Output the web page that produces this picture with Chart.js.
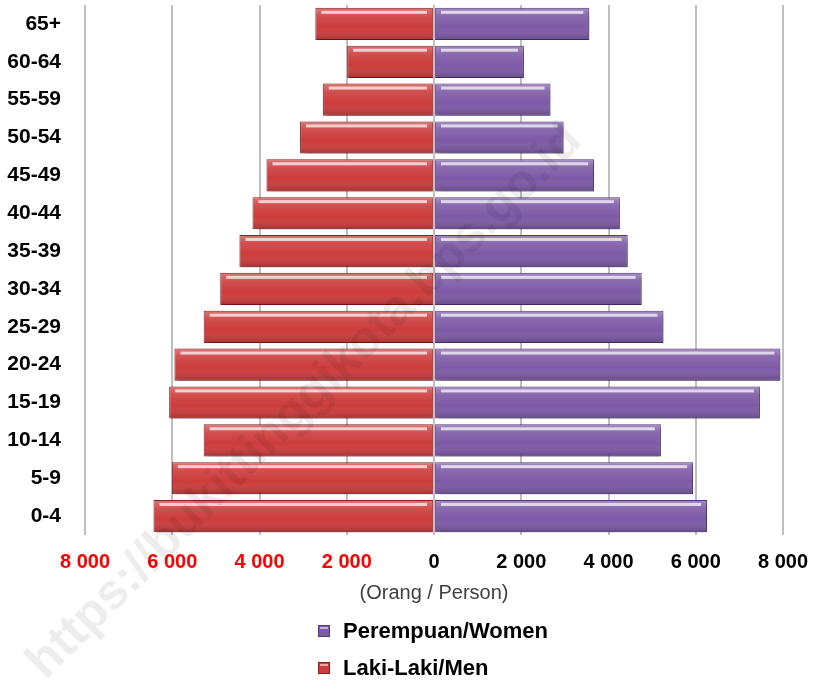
<!DOCTYPE html>
<html>
<head>
<meta charset="utf-8">
<script src="https://cdn.jsdelivr.net/npm/chart.js@4/dist/chart.umd.min.js"></script>
<style>
  html, body { margin: 0; padding: 0; background: #fff; }
  #wrap { width: 817px; height: 681px; position: relative; }
</style>
</head>
<body>
<div id="wrap"><canvas id="pyramid"></canvas></div>
<script>
/* population pyramid */
const ageGroups = ['65+','60-64','55-59','50-54','45-49','40-44','35-39','30-34','25-29','20-24','15-19','10-14','5-9','0-4'];
const menValues = [2720, 1990, 2550, 3070, 3840, 4160, 4460, 4900, 5280, 5950, 6070, 5280, 6010, 6430];
const womenValues = [3560, 2060, 2670, 2970, 3670, 4260, 4440, 4760, 5260, 7940, 7470, 5200, 5940, 6260];
const xTickValues = [-8000, -6000, -4000, -2000, 0, 2000, 4000, 6000, 8000];

const FONT = "'Liberation Sans', Arial, sans-serif";
const RED = '#CD3C3C', RED_EDGE = '#8E1F1F';
const PURPLE = '#7D5AA6', PURPLE_EDGE = '#553980';

// thousand separator with a space, no sign
const fmt = v => Math.abs(v).toString().replace(/\B(?=(\d{3})+(?!\d))/g, ' ');

// soft drop shadow + bevel highlight on bars
const bevelPlugin = {
  id: 'bevel',
  beforeDatasetsDraw(chart) {
    const c = chart.ctx;
    c.save();
    c.shadowColor = 'rgba(0,0,0,0.35)';
    c.shadowBlur = 5;
    c.shadowOffsetX = 3;
    c.shadowOffsetY = 3;
  },
  afterDatasetsDraw(chart) {
    const c = chart.ctx;
    c.restore();
    chart.data.datasets.forEach((ds, i) => {
      chart.getDatasetMeta(i).data.forEach(bar => {
        const p = bar.getProps(['x','y','base','height'], true);
        const l = Math.min(p.x, p.base), r = Math.max(p.x, p.base);
        const t = p.y - p.height / 2, b = p.y + p.height / 2;
        const g = c.createLinearGradient(0, t, 0, b);
        g.addColorStop(0, 'rgba(255,255,255,0.3)');
        g.addColorStop(0.25, 'rgba(255,255,255,0.1)');
        g.addColorStop(0.6, 'rgba(255,255,255,0)');
        g.addColorStop(1, 'rgba(0,0,0,0.2)');
        c.save();
        c.fillStyle = g;
        c.fillRect(l + 1, t + 1, r - l - 2, b - t - 2);
        // bright line near the top edge
        c.fillStyle = 'rgba(255,255,255,0.7)';
        c.fillRect(l + 6, t + 3, Math.max(0, r - l - 12), 3);
        c.restore();
      });
    });
  }
};

// legend stacked in two rows + watermark
const extrasPlugin = {
  id: 'extras',
  afterDraw(chart) {
    const c = chart.ctx;
    const items = [
      { text: 'Perempuan/Women', fill: PURPLE, edge: PURPLE_EDGE },
      { text: 'Laki-Laki/Men', fill: RED, edge: RED_EDGE }
    ];
    c.save();
    items.forEach((it, k) => {
      const cy = 631 + k * 37;
      c.fillStyle = it.fill;
      c.strokeStyle = it.edge;
      c.lineWidth = 1;
      c.fillRect(318, cy - 6, 12, 12);
      c.strokeRect(318.5, cy - 5.5, 11, 11);
      c.fillStyle = 'rgba(255,255,255,0.55)';
      c.fillRect(320, cy - 4, 8, 2);
      c.fillStyle = '#000';
      c.font = 'bold 22px ' + FONT;
      c.textBaseline = 'middle';
      c.textAlign = 'left';
      c.fillText(it.text, 343, cy + 1);
    });
    c.restore();

    c.save();
    c.translate(305, 402);
    c.rotate(-Math.PI / 4);
    c.font = 'bold 50px ' + FONT;
    c.textAlign = 'center';
    c.textBaseline = 'middle';
    c.fillStyle = 'rgba(0,0,0,0.07)';
    c.fillText('https://bukittinggikota.bps.go.id', 0, 0);
    c.restore();
  }
};

new Chart(document.getElementById('pyramid'), {
  type: 'bar',
  data: {
    labels: ageGroups,
    datasets: [
      { label: 'Laki-Laki/Men', data: menValues.map(v => -v), backgroundColor: RED, borderColor: RED_EDGE, borderWidth: 1 },
      { label: 'Perempuan/Women', data: womenValues, backgroundColor: PURPLE, borderColor: PURPLE_EDGE, borderWidth: 1 }
    ]
  },
  options: {
    indexAxis: 'y',
    responsive: true,
    maintainAspectRatio: false,
    animation: false,
    barPercentage: 0.85,
    categoryPercentage: 1,
    layout: { padding: { top: 5, right: 34, bottom: 76, left: 0 } },
    plugins: { legend: { display: false }, tooltip: { enabled: false } },
    scales: {
      x: {
        stacked: true,
        min: -8000, max: 8000,
        afterBuildTicks: s => { s.ticks = xTickValues.map(v => ({ value: v })); },
        afterFit: s => { s.height = 70; s.paddingLeft = 0; s.paddingRight = 0; },
        grid: { color: '#BFBFBF', lineWidth: 2, drawTicks: false },
        border: { display: false },
        ticks: {
          padding: 15,
          font: { family: FONT, size: 20, weight: 'bold' },
          color: c => (c.tick && c.tick.value < 0) ? '#FF0000' : '#000000',
          callback: v => fmt(v),
          maxRotation: 0
        },
        title: {
          display: true,
          text: '(Orang / Person)',
          color: '#404040',
          font: { family: FONT, size: 20 },
          padding: { top: 6, bottom: 0 }
        }
      },
      y: {
        stacked: true,
        afterFit: s => { s.width = 85; s.paddingTop = 0; s.paddingBottom = 0; },
        grid: { display: false, drawTicks: false },
        border: { display: false },
        ticks: {
          padding: 24,
          font: { family: FONT, size: 21, weight: 'bold' },
          color: '#000'
        }
      }
    }
  },
  plugins: [bevelPlugin, extrasPlugin]
});
</script>
</body>
</html>
